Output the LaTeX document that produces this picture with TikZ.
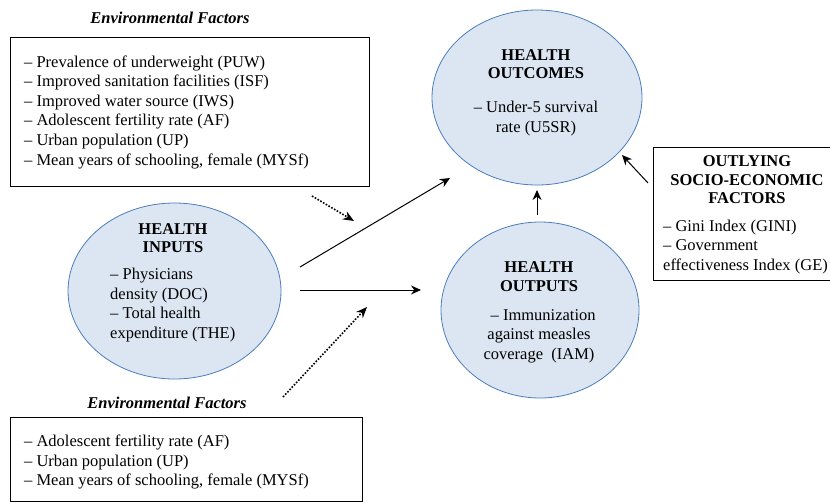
\documentclass[tikz,border=0pt]{standalone}
\usepackage{fontspec}
\setmainfont{Liberation Serif}
\usetikzlibrary{arrows.meta}
\definecolor{ellfill}{HTML}{DCE6F2}
\definecolor{elldraw}{HTML}{4A7EBB}
\tikzset{
  txt/.style={inner sep=0pt, font=\fontsize{16.5}{19.6}\selectfont},
  ttl/.style={inner sep=0pt, align=center, font=\fontsize{16.5}{18.5}\selectfont\bfseries},
  oval/.style={ellipse, draw=elldraw, fill=ellfill, line width=0.8pt, inner sep=0pt},
  fbox/.style={draw=black, line width=0.9pt, inner sep=0pt},
  arr/.style={line width=1pt, -{Stealth[length=10pt,width=9pt]}},
  darr/.style={line width=1.6pt, dash pattern=on 1.6pt off 1.6pt, -{Stealth[length=11pt,width=9pt]}},
}
\usetikzlibrary{shapes.geometric}
\begin{document}
\begin{tikzpicture}[x=1pt,y=-1pt]
\useasboundingbox (0,0) rectangle (830,501);
% top environmental box
\node[font=\fontsize{16.5}{19}\selectfont\bfseries\itshape, inner sep=0pt] (t1) at (170,18) {Environmental Factors};
\node[fbox, minimum width=359pt, minimum height=149pt, anchor=north west] (b1) at (10,37) {};
\node[txt, align=left, anchor=west] (b1t) at (24,112) {-- Prevalence of underweight (PUW)\\-- Improved sanitation facilities (ISF)\\-- Improved water source (IWS)\\-- Adolescent fertility rate (AF)\\-- Urban population (UP)\\-- Mean years of schooling, female (MYSf)};
% bottom environmental box
\node[font=\fontsize{16.5}{19}\selectfont\bfseries\itshape, inner sep=0pt] (t2) at (167,403) {Environmental Factors};
\node[fbox, minimum width=352pt, minimum height=84pt, anchor=north west] (b2) at (10,417) {};
\node[txt, align=left, anchor=west] (b2t) at (24,462) {-- Adolescent fertility rate (AF)\\-- Urban population (UP)\\-- Mean years of schooling, female (MYSf)};
% ellipses
\node[oval, minimum width=210pt, minimum height=175pt] (out) at (537,97.5) {};
\node[ttl] (outh) at (536,64) {HEALTH\\OUTCOMES};
\node[txt, align=center] (outt) at (536,118.5) {-- Under-5 survival\\rate (U5SR)};
\node[oval, minimum width=213pt, minimum height=176pt] (inp) at (174.5,291) {};
\node[ttl] (inph) at (173,238) {HEALTH\\INPUTS};
\node[txt, align=left, anchor=west] (inpt) at (110,305) {-- Physicians\\density (DOC)\\-- Total health\\expenditure (THE)};
\node[oval, minimum width=198pt, minimum height=176pt] (opt) at (540,310) {};
\node[ttl] (opth) at (539,276.5) {HEALTH\\OUTPUTS};
\node[txt, align=center] (optt) at (539,336) {~~-- Immunization\\against measles\\coverage~~(IAM)};
% outlying box
\node[fbox, minimum width=180pt, minimum height=133pt, anchor=north west] (ob) at (653,147) {};
\node[ttl] (obh) at (747,180) {OUTLYING\\SOCIO-ECONOMIC\\FACTORS};
\node[txt, align=left, anchor=west] (obt) at (663,247) {-- Gini Index (GINI)\\-- Government\\effectiveness Index (GE)};
% arrow coordinates
\coordinate (d1s) at (312,196);
\coordinate (d1e) at (354,221);
\coordinate (a1s) at (300,267);
\coordinate (a1e) at (450,178);
\coordinate (a2s) at (300,290);
\coordinate (a2e) at (421,290);
\coordinate (d2s) at (283,397);
\coordinate (d2e) at (367,307);
\coordinate (a3s) at (537,215);
\coordinate (a3e) at (537,190);
\coordinate (a4s) at (648,183);
\coordinate (a4e) at (622,155);
\draw[darr] (d1s) -- (d1e);
\draw[arr] (a1s) -- (a1e);
\draw[arr] (a2s) -- (a2e);
\draw[darr] (d2s) -- (d2e);
\draw[arr] (a3s) -- (a3e);
\draw[arr] (a4s) -- (a4e);
\end{tikzpicture}
\end{document}
